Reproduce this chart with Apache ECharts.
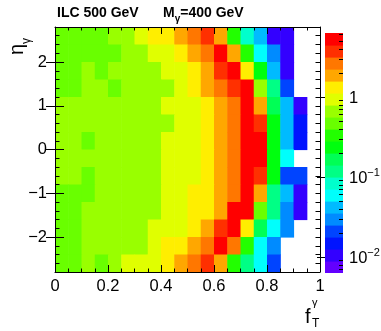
<!DOCTYPE html>
<html><head><meta charset="utf-8">
<script src="https://cdn.jsdelivr.net/npm/echarts@6/dist/echarts.min.js"></script>
<style>html,body{margin:0;padding:0;background:#fff;}#c{width:381px;height:331px;}</style>
</head><body><div id="c"></div>
<script>
// ---- data ----
const xEdges = [0,0.05,0.1,0.15,0.2,0.25,0.3,0.35,0.4,0.45,0.5,0.55,0.6,0.65,0.7,0.75,0.8,0.85,0.9,0.95,1];
const yEdges = [2.8,2.4,2.0,1.6,1.2,0.8,0.4,0.0,-0.4,-0.8,-1.2,-1.6,-2.0,-2.4,-2.8]; // top to bottom
const zRows = [
 [.47,.47,.47,.47,.67,.67,.94,1.33,1.33,1.9,2.7,3.8,1.9,.34,.084,.042,.0106,.0106,null,null],
 [.47,.47,.47,.47,.47,.67,.67,.94,.94,1.33,1.9,2.7,5.3,1.9,.34,.06,.03,.0106,null,null],
 [.47,.47,.67,.47,.67,.67,.67,.67,.94,.94,1.33,1.9,3.8,5.3,1.33,.24,.042,.0106,null,null],
 [.47,.47,.67,.67,.47,.67,.67,.67,.67,.94,1.33,1.9,2.7,3.8,5.3,.67,.12,.021,null,null],
 [.67,.67,.67,.67,.67,.67,.67,.67,.94,.94,.94,1.33,1.9,2.7,5.3,1.9,.17,.042,.0106,null],
 [.67,.67,.67,.67,.67,.67,.67,.67,.67,.94,.94,1.33,1.9,2.7,5.3,3.8,.24,.042,.015,null],
 [.67,.67,.47,.67,.67,.67,.67,.67,.94,.94,.94,1.33,1.9,2.7,5.3,5.3,.24,.042,.015,null],
 [.67,.67,.67,.67,.67,.67,.67,.67,.94,.94,.94,1.33,1.9,2.7,5.3,5.3,.24,.06,null,null],
 [.67,.67,.47,.67,.67,.67,.67,.67,.94,.94,.94,1.33,1.9,2.7,5.3,3.8,.24,.021,.021,null],
 [.47,.47,.47,.67,.67,.67,.67,.67,.94,.94,1.33,1.33,1.9,2.7,5.3,1.9,.12,.042,.0106,null],
 [.47,.47,.67,.67,.67,.67,.67,.67,.94,.94,1.33,1.33,1.9,5.3,5.3,.47,.12,.03,.0106,null],
 [.47,.47,.67,.67,.67,.67,.67,.94,.94,.94,1.33,1.9,3.8,5.3,1.33,.17,.06,.03,null,null],
 [.47,.47,.67,.67,.67,.67,.67,.94,1.33,1.33,1.9,2.7,5.3,2.7,.34,.06,.03,null,null,null],
 [.47,.47,.67,.47,.67,.94,.94,.94,1.33,1.9,2.7,3.8,1.9,.34,.12,.06,.021,null,null,null]
];
const yTickValues = [-2,-1,0,1,2];
const zTickValues = [-2,-1,0]; // log10
const palette = ['#6300ff','#3300ff','#0014ff','#0044ff','#008bff','#00bbff','#00fffc','#00ffcc','#00ff85','#00ff55','#00ff0e','#22ff00','#69ff00','#99ff00','#e0ff00','#ffee00','#ffa700','#ff7700','#ff3000','#ff0000'];
const zLogMin = -2.2, zLogMax = 0.8;

// ---- build ----
const FONT = '"Liberation Sans", Arial, Helvetica, sans-serif';
const nLev = palette.length;
function levelOf(z){
  let j = Math.floor((Math.log10(z)-zLogMin)/(zLogMax-zLogMin)*nLev);
  return Math.max(0, Math.min(nLev-1, j));
}
const cells = [];
zRows.forEach((row, r) => row.forEach((z, c) => {
  if (z != null) cells.push([xEdges[c], xEdges[c+1], yEdges[r+1], yEdges[r], z]);
}));
const cbLevels = [];
for (let j = 0; j < nLev; j++) {
  cbLevels.push([zLogMin + (zLogMax-zLogMin)*j/nLev, zLogMin + (zLogMax-zLogMin)*(j+1)/nLev, j]);
}
const zMinor = [];
for (let n = -3; n <= 0; n++) for (let k = 2; k <= 9; k++) {
  const v = n + Math.log10(k);
  if (v > zLogMin && v < zLogMax) zMinor.push(v);
}
const yMinor = [];
for (let k = -14; k <= 14; k++) yMinor.push(+(k*0.2).toFixed(2));

const black = {color:'#000', width:1};
function noSplit(o){ o.splitLine = {show:false}; o.minorSplitLine = {show:false}; return o; }

const xAxes = [
  noSplit({gridIndex:0, type:'value', min:0, max:1, interval:0.2, position:'bottom', z:10,
    axisLine:{show:true, onZero:false, lineStyle:black},
    axisTick:{show:true, inside:true, length:7, lineStyle:black},
    minorTick:{show:true, splitNumber:4, length:3.5, lineStyle:black},
    axisLabel:{show:true, margin:6, fontSize:16.5, fontFamily:FONT, color:'#000', showMinLabel:true, showMaxLabel:true}}),
  noSplit({gridIndex:0, type:'value', min:0, max:1, interval:0.2, position:'top', z:10,
    axisLine:{show:true, onZero:false, lineStyle:black},
    axisTick:{show:true, inside:true, length:7, lineStyle:black},
    minorTick:{show:true, splitNumber:4, length:3.5, lineStyle:black},
    axisLabel:{show:false}}),
  noSplit({gridIndex:1, type:'value', min:0, max:1, show:false})
];
function yMinorAxis(pos){
  return noSplit({gridIndex:0, type:'value', min:-2.8, max:2.8, position:pos, z:10,
    axisLine:{show:true, onZero:false, lineStyle:black},
    axisTick:{show:true, inside:true, length:4.5, lineStyle:black, customValues:yMinor},
    axisLabel:{show:false}});
}
function yMajorAxis(pos, labels){
  return noSplit({gridIndex:0, type:'value', min:-2.8, max:2.8, position:pos, z:10,
    axisLine:{show:false},
    axisTick:{show:true, inside:true, length:9, lineStyle:black, customValues:yTickValues},
    axisLabel:{show:labels, customValues:yTickValues, margin:8, fontSize:16.5, fontFamily:FONT, color:'#000',
      formatter: v => String(v).replace('-', '\u2212')}});
}
const yAxes = [
  yMinorAxis('left'), yMajorAxis('left', true), yMinorAxis('right'), yMajorAxis('right', false),
  noSplit({gridIndex:1, type:'value', min:zLogMin, max:zLogMax, position:'right', z:10,
    axisLine:{show:false},
    axisTick:{show:true, inside:true, length:8, lineStyle:black, customValues:zTickValues},
    axisLabel:{show:true, customValues:zTickValues, margin:6, color:'#000',
      formatter: v => v === 0 ? '{n|1}' : '{n|10}{s|\u2212' + (-v) + '}',
      rich:{ n:{fontSize:16.5, fontFamily:FONT, color:'#000', lineHeight:20, verticalAlign:'bottom'},
             s:{fontSize:11, fontFamily:FONT, color:'#000', lineHeight:11, verticalAlign:'top'} }}}),
  noSplit({gridIndex:1, type:'value', min:zLogMin, max:zLogMax, position:'right', z:10,
    axisLine:{show:false},
    axisTick:{show:true, inside:true, length:4, lineStyle:black, customValues:zMinor},
    axisLabel:{show:false}})
];

const option = {
  animation:false,
  backgroundColor:'#fff',
  grid:[
    {left:55, top:27, width:265, height:245, outerBoundsMode:'none', containLabel:false},
    {left:325, top:33, width:18, height:240, outerBoundsMode:'none', containLabel:false}
  ],
  xAxis:xAxes,
  yAxis:yAxes,
  series:[
    {type:'custom', xAxisIndex:0, yAxisIndex:0, z:1, clip:true, data:cells,
     encode:{x:[0,1], y:[2,3]},
     renderItem:(params, api) => {
       const p0 = api.coord([api.value(0), api.value(3)]);
       const p1 = api.coord([api.value(1), api.value(2)]);
       return {type:'rect', shape:{x:p0[0], y:p0[1], width:p1[0]-p0[0]+0.6, height:p1[1]-p0[1]+0.6},
               style:{fill:palette[levelOf(api.value(4))]}};
     }},
    {type:'custom', xAxisIndex:2, yAxisIndex:4, z:1, clip:true, data:cbLevels,
     encode:{y:[0,1]},
     renderItem:(params, api) => {
       const p0 = api.coord([0, api.value(1)]);
       const p1 = api.coord([1, api.value(0)]);
       return {type:'rect', shape:{x:p0[0], y:p0[1], width:p1[0]-p0[0], height:p1[1]-p0[1]+0.6},
               style:{fill:palette[api.value(2)]}};
     }}
  ],
  graphic:[
    {type:'text', x:57, y:20, style:{text:'{b|ILC 500 GeV}', verticalAlign:'bottom',
      rich:{b:{fontSize:14, fontWeight:'bold', fontFamily:FONT, fill:'#000'}}}},
    {type:'text', x:163, y:24, style:{text:'{b|M}{s|\u03b3}{b|=400 GeV}', verticalAlign:'bottom',
      rich:{b:{fontSize:14, fontWeight:'bold', fontFamily:FONT, fill:'#000', padding:[0,0,4,0], verticalAlign:'bottom'},
            s:{fontSize:10, fontWeight:'bold', fontFamily:FONT, fill:'#000', verticalAlign:'bottom'}}}},
    {type:'text', x:20, y:38, rotation:Math.PI/2, style:{text:'{e|\u03b7}{s|\u03b3}', align:'right', verticalAlign:'middle',
      rich:{e:{fontSize:20, fontFamily:FONT, fill:'#000', padding:[0,0,5,0], verticalAlign:'bottom'},
            s:{fontSize:12, fontFamily:FONT, fill:'#000', verticalAlign:'bottom'}}}},
    {type:'text', x:305, y:317, style:{text:'f', fontSize:20, fontFamily:FONT, fill:'#000', verticalAlign:'middle'}},
    {type:'text', x:312, y:303, style:{text:'\u03b3', fontSize:11, fontFamily:FONT, fill:'#000', verticalAlign:'middle'}},
    {type:'text', x:312, y:324, style:{text:'T', fontSize:12, fontFamily:FONT, fill:'#000', verticalAlign:'middle'}}
  ]
};
const chart = echarts.init(document.getElementById('c'), null, {renderer:'canvas'});
chart.setOption(option);
</script></body></html>
